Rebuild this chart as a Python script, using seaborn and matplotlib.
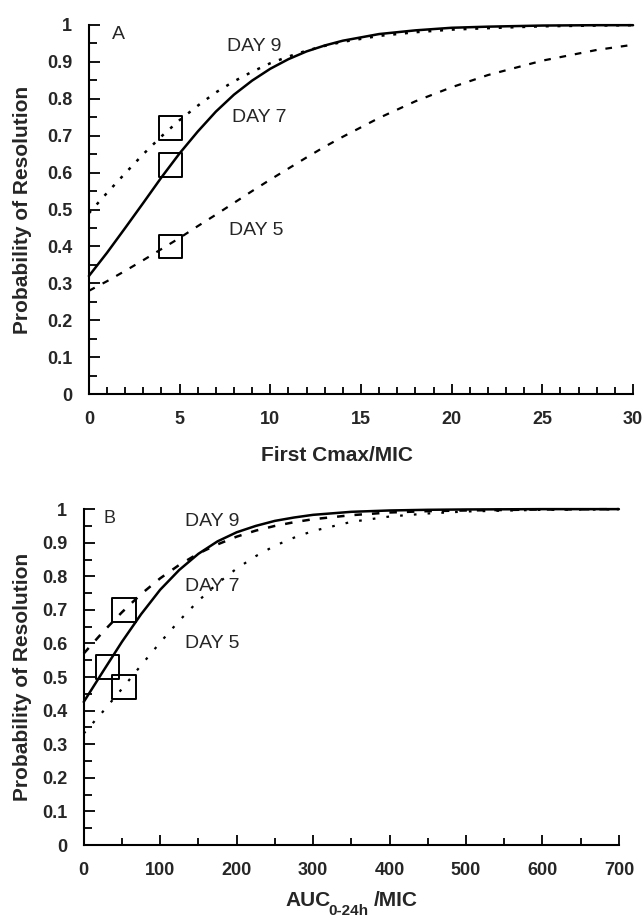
import numpy as np
import pandas as pd
import matplotlib
matplotlib.use("Agg")
import matplotlib.pyplot as plt
import seaborn as sns
from matplotlib.ticker import MultipleLocator, FuncFormatter

# Panel A: probability vs first Cmax/MIC
cmax_x = [0, 1, 2, 3, 4, 5, 6, 7, 8, 9, 10, 11, 12, 13, 14, 16, 18, 20, 22, 25, 28, 30]
cmax_day7 = [0.32, 0.383, 0.45, 0.518, 0.587, 0.652, 0.711, 0.765, 0.811, 0.849,
             0.881, 0.907, 0.928, 0.944, 0.957, 0.975, 0.985, 0.992, 0.995, 0.998,
             0.999, 0.999]
cmax_day9 = [0.49, 0.545, 0.598, 0.65, 0.698, 0.742, 0.781, 0.817, 0.847, 0.873,
             0.896, 0.914, 0.93, 0.943, 0.954, 0.97, 0.98, 0.987, 0.991, 0.996,
             0.998, 0.999]
cmax_day5 = [0.28, 0.306, 0.334, 0.363, 0.393, 0.423, 0.455, 0.486, 0.518, 0.55,
             0.581, 0.611, 0.641, 0.67, 0.697, 0.748, 0.793, 0.831, 0.864, 0.903,
             0.932, 0.946]
cmax_box_x = [4.5, 4.5, 4.5]
cmax_box_y = [0.72, 0.62, 0.40]

# Panel B: probability vs AUC0-24h/MIC
auc_x = [0, 25, 50, 75, 100, 125, 150, 175, 200, 225, 250, 275, 300, 350, 400,
         450, 500, 600, 700]
auc_day7 = [0.426, 0.516, 0.605, 0.687, 0.76, 0.819, 0.867, 0.904, 0.931, 0.95,
            0.965, 0.975, 0.983, 0.992, 0.996, 0.998, 0.999, 1.0, 1.0]
auc_day9 = [0.57, 0.634, 0.693, 0.747, 0.794, 0.834, 0.868, 0.895, 0.918, 0.936,
            0.95, 0.961, 0.97, 0.982, 0.99, 0.994, 0.996, 0.999, 1.0]
auc_day5 = [0.332, 0.397, 0.465, 0.535, 0.603, 0.668, 0.727, 0.779, 0.823, 0.86,
            0.891, 0.915, 0.935, 0.962, 0.978, 0.987, 0.993, 0.998, 0.999]
auc_box_x = [53, 31, 53]
auc_box_y = [0.70, 0.53, 0.47]

sns.set_style("ticks")
plt.rcParams["font.family"] = ["Liberation Sans", "DejaVu Sans"]

fig = plt.figure(figsize=(6.44, 9.19), dpi=100)
ax_a = fig.add_axes([0.138, 0.571, 0.845, 0.402])
ax_b = fig.add_axes([0.130, 0.0805, 0.831, 0.3655])


def style_axis(ax, xmax, xmajor, xminor, ylab_x):
    ax.set_xlim(0, xmax)
    ax.set_ylim(0, 1)
    for side in ["top", "right"]:
        ax.spines[side].set_visible(False)
    for side in ["left", "bottom"]:
        ax.spines[side].set_linewidth(1.5)
        ax.spines[side].set_color("black")
    ax.xaxis.set_major_locator(MultipleLocator(xmajor))
    ax.xaxis.set_minor_locator(MultipleLocator(xminor))
    ax.yaxis.set_major_locator(MultipleLocator(0.1))
    ax.yaxis.set_minor_locator(MultipleLocator(0.05))
    ax.yaxis.set_major_formatter(FuncFormatter(lambda v, p: f"{v:g}"))
    ax.tick_params(which="both", direction="in", color="black", width=1.3)
    ax.tick_params(axis="x", which="major", length=7, pad=12)
    ax.tick_params(axis="x", which="minor", length=5)
    ax.tick_params(axis="y", which="major", length=8, pad=12)
    ax.tick_params(axis="y", which="minor", length=6)
    for lab in ax.get_xticklabels() + ax.get_yticklabels():
        lab.set_fontweight("bold")
        lab.set_fontsize(13)
    ax.set_ylabel("Probability of Resolution", fontsize=15, fontweight="bold")
    ax.yaxis.set_label_coords(ylab_x, 0.5)
    ax.set_xlabel("")


def draw_curves(ax, x, d7, d9, d5, bx, by, s9, s5):
    sns.lineplot(x=x, y=d7, ax=ax, color="black", lw=1.8, clip_on=False)
    sns.lineplot(x=x, y=d9, ax=ax, color="black", lw=1.8, linestyle=s9, clip_on=False)
    sns.lineplot(x=x, y=d5, ax=ax, color="black", lw=1.6, linestyle=s5, clip_on=False)
    sns.scatterplot(x=bx, y=by, ax=ax, marker="s", s=290, fc="none", ec="black",
                    linewidth=1.4, zorder=5)


# Panel A
draw_curves(ax_a, cmax_x, cmax_day7, cmax_day9, cmax_day5, cmax_box_x, cmax_box_y,
            (0, (1.2, 3.5)), (0, (3, 4)))
style_axis(ax_a, 30, 5, 1, -0.105)
ax_a.text(1.65, 0.973, "A", fontsize=14, ha="center", va="center")
ax_a.text(7.6, 0.94, "DAY 9", fontsize=14, va="center")
ax_a.text(7.9, 0.75, "DAY 7", fontsize=14, va="center")
ax_a.text(7.7, 0.444, "DAY 5", fontsize=14, va="center")
ax_a.text(0.456, -0.165, "First Cmax/MIC", transform=ax_a.transAxes, fontsize=15,
          fontweight="bold", ha="center", va="center")

# Panel B
draw_curves(ax_b, auc_x, auc_day7, auc_day9, auc_day5, auc_box_x, auc_box_y,
            (0, (3, 4)), (0, (1.2, 5)))
style_axis(ax_b, 700, 100, 50, -0.097)
ax_b.text(34, 0.973, "B", fontsize=13, ha="center", va="center")
ax_b.text(132, 0.962, "DAY 9", fontsize=14, va="center")
ax_b.text(132, 0.771, "DAY 7", fontsize=14, va="center")
ax_b.text(132, 0.601, "DAY 5", fontsize=14, va="center")
ax_b.text(0.42, -0.164, "AUC", transform=ax_b.transAxes, fontsize=15,
          fontweight="bold", ha="center", va="center")
ax_b.text(0.495, -0.197, "0-24h", transform=ax_b.transAxes, fontsize=11,
          fontweight="bold", ha="center", va="center")
ax_b.text(0.583, -0.164, "/MIC", transform=ax_b.transAxes, fontsize=15,
          fontweight="bold", ha="center", va="center")

fig.savefig("out.png", dpi=100, facecolor="white")
